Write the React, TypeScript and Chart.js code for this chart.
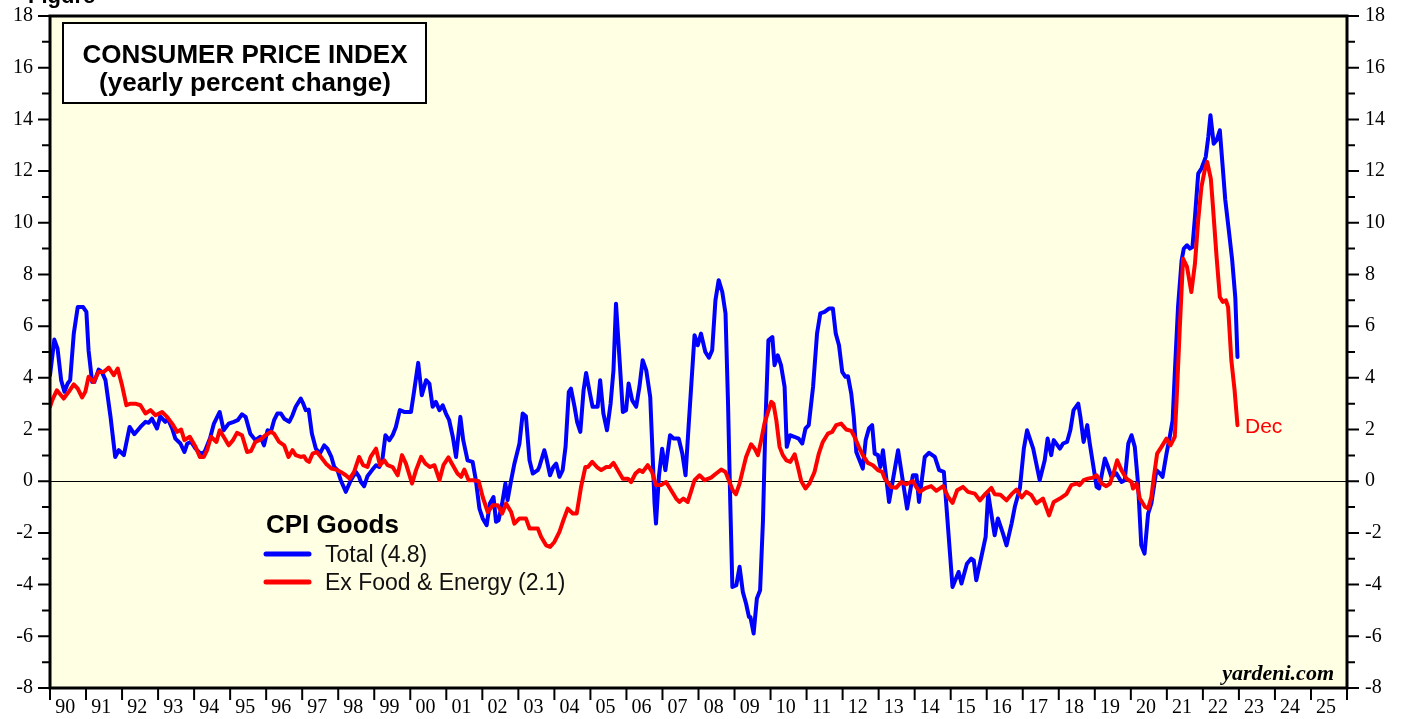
import React, { useEffect, useRef } from "react";
import { Chart, registerables } from "chart.js";

Chart.register(...registerables);

// ---- Data ----
const totalDates = [
  1990.0, 1990.12, 1990.21, 1990.31, 1990.4, 1990.49, 1990.56, 1990.66, 1990.77, 1990.92,
  1991.01, 1991.07, 1991.17, 1991.23, 1991.35, 1991.44, 1991.54, 1991.68, 1991.81, 1991.91,
  1992.05, 1992.21, 1992.34, 1992.51, 1992.65, 1992.74, 1992.83, 1992.97, 1993.06, 1993.2,
  1993.27, 1993.39, 1993.48, 1993.62, 1993.73, 1993.81, 1993.92, 1994.04, 1994.18, 1994.29,
  1994.44, 1994.55, 1994.71, 1994.82, 1994.96, 1995.1, 1995.21, 1995.33, 1995.43, 1995.56,
  1995.7, 1995.84, 1995.94, 1996.04, 1996.13, 1996.22, 1996.31, 1996.41, 1996.5, 1996.64,
  1996.73, 1996.82, 1996.96, 1997.03, 1997.1, 1997.18, 1997.27, 1997.38, 1997.49, 1997.61,
  1997.7, 1997.81, 1997.89, 1997.98, 1998.07, 1998.21, 1998.35, 1998.49, 1998.58, 1998.63,
  1998.72, 1998.81, 1998.94, 1999.05, 1999.14, 1999.23, 1999.31, 1999.42, 1999.51, 1999.6,
  1999.71, 1999.83, 2000.02, 2000.11, 2000.22, 2000.32, 2000.44, 2000.53, 2000.62, 2000.71,
  2000.81, 2000.9, 2000.99, 2001.08, 2001.18, 2001.27, 2001.39, 2001.47, 2001.59, 2001.73,
  2001.82, 2001.92, 2002.01, 2002.12, 2002.21, 2002.31, 2002.38, 2002.45, 2002.55, 2002.64,
  2002.7, 2002.8, 2002.89, 2003.03, 2003.12, 2003.21, 2003.31, 2003.4, 2003.54, 2003.58,
  2003.72, 2003.77, 2003.88, 2003.97, 2004.05, 2004.14, 2004.23, 2004.31, 2004.4, 2004.46,
  2004.56, 2004.63, 2004.72, 2004.81, 2004.88, 2004.97, 2005.06, 2005.2, 2005.27, 2005.36,
  2005.46, 2005.56, 2005.64, 2005.71, 2005.81, 2005.9, 2005.99, 2006.06, 2006.16, 2006.27,
  2006.36, 2006.45, 2006.55, 2006.66, 2006.71, 2006.78, 2006.82, 2006.9, 2006.99, 2007.08,
  2007.21, 2007.31, 2007.45, 2007.55, 2007.64, 2007.73, 2007.89, 2007.98, 2008.07, 2008.19,
  2008.29, 2008.38, 2008.47, 2008.56, 2008.66, 2008.75, 2008.82, 2008.88, 2008.94, 2009.05,
  2009.14, 2009.23, 2009.32, 2009.4, 2009.44, 2009.53, 2009.62, 2009.71, 2009.79, 2009.86,
  2009.94, 2010.05, 2010.11, 2010.2, 2010.29, 2010.39, 2010.45, 2010.54, 2010.66, 2010.78,
  2010.88, 2010.97, 2011.06, 2011.18, 2011.29, 2011.38, 2011.5, 2011.62, 2011.73, 2011.81,
  2011.9, 2011.99, 2012.08, 2012.15, 2012.24, 2012.31, 2012.38, 2012.47, 2012.56, 2012.64,
  2012.73, 2012.82, 2012.89, 2012.98, 2013.05, 2013.12, 2013.29, 2013.54, 2013.79, 2013.95,
  2014.05, 2014.12, 2014.28, 2014.4, 2014.56, 2014.68, 2014.81, 2015.05, 2015.22, 2015.3,
  2015.45, 2015.57, 2015.64, 2015.71, 2015.85, 2015.97, 2016.04, 2016.22, 2016.31, 2016.45,
  2016.55, 2016.69, 2016.78, 2016.92, 2017.03, 2017.12, 2017.29, 2017.47, 2017.61, 2017.69,
  2017.79, 2017.86, 2018.03, 2018.12, 2018.23, 2018.32, 2018.41, 2018.54, 2018.6, 2018.69,
  2018.79, 2018.86, 2019.05, 2019.12, 2019.28, 2019.37, 2019.46, 2019.6, 2019.74, 2019.83,
  2019.93, 2020.02, 2020.11, 2020.2, 2020.29, 2020.38, 2020.48, 2020.57, 2020.71, 2020.81,
  2020.88, 2020.99, 2021.08, 2021.16, 2021.22, 2021.31, 2021.41, 2021.47, 2021.56, 2021.64,
  2021.71, 2021.78, 2021.87, 2021.96, 2022.08, 2022.15, 2022.21, 2022.3, 2022.38, 2022.47,
  2022.55, 2022.62, 2022.72, 2022.81, 2022.9, 2022.96,
];
const totalValues = [
  4.1, 5.48, 5.13, 3.91, 3.46, 3.78, 3.91, 5.71, 6.74, 6.74,
  6.55, 5.07, 3.84, 3.84, 4.32, 4.23, 3.91, 2.49, 0.94, 1.2,
  1.01, 2.1, 1.82, 2.1, 2.3, 2.26, 2.42, 2.04, 2.51, 2.3,
  2.42, 2.04, 1.65, 1.46, 1.13, 1.46, 1.52, 1.26, 1.07, 1.13,
  1.65, 2.23, 2.68, 1.97, 2.23, 2.3, 2.36, 2.59, 2.49, 1.84,
  1.59, 1.72, 1.39, 1.97, 1.91, 2.36, 2.62, 2.62, 2.42, 2.3,
  2.55, 2.88, 3.2, 3.0, 2.75, 2.77, 1.84, 1.26, 1.07, 1.39,
  1.26, 0.94, 0.55, 0.43, 0.04, -0.41, 0.04, 0.36, 0.17, -0.03,
  -0.19, 0.19, 0.43, 0.62, 0.55, 0.88, 1.78, 1.59, 1.78, 2.1,
  2.75, 2.68, 2.68, 3.52, 4.58, 3.33, 3.91, 3.78, 2.88, 3.07,
  2.75, 2.94, 2.62, 2.36, 1.72, 0.94, 2.49, 1.59, 0.81, 0.75,
  0.04, -1.06, -1.44, -1.7, -0.86, -0.61, -1.57, -1.51, -0.86, -0.09,
  -0.73, 0.04, 0.68, 1.46, 2.62, 2.51, 0.81, 0.3, 0.43, 0.55,
  1.2, 0.94, 0.23, 0.55, 0.68, 0.17, 0.43, 1.33, 3.46, 3.58,
  2.88, 2.3, 1.91, 3.52, 4.19, 3.52, 2.88, 2.88, 3.91, 2.62,
  1.97, 3.0, 4.29, 6.87, 4.68, 2.68, 2.75, 3.78, 3.13, 2.88,
  3.65, 4.68, 4.29, 3.26, 1.59, -0.86, -1.64, 0.17, 1.26, 0.43,
  1.78, 1.65, 1.65, 1.07, 0.23, 2.23, 5.65, 5.26, 5.71, 5.0,
  4.78, 5.07, 7.0, 7.78, 7.32, 6.49, 3.0, -0.74, -4.09, -4.02,
  -3.31, -4.28, -4.73, -5.25, -5.25, -5.89, -4.54, -4.22, -1.51, 2.36,
  5.45, 5.58, 4.49, 4.87, 4.49, 3.65, 1.33, 1.78, 1.72, 1.65,
  1.46, 2.04, 2.17, 3.65, 5.71, 6.49, 6.55, 6.68, 6.68, 5.71,
  5.26, 4.23, 4.04, 4.06, 3.39, 2.49, 1.13, 0.81, 0.49, 1.59,
  2.04, 2.17, 1.07, 1.01, 0.55, 1.2, -0.8, 1.2, -1.06, 0.23,
  0.23, -0.8, 0.94, 1.1, 0.94, 0.43, 0.36, -4.09, -3.51, -3.96,
  -3.19, -2.99, -3.06, -3.83, -2.93, -2.15, -0.48, -2.09, -1.44, -2.02,
  -2.48, -1.64, -0.99, -0.28, 1.26, 1.97, 1.26, 0.04, 0.81, 1.65,
  1.01, 1.59, 1.26, 1.46, 1.52, 1.97, 2.75, 3.0, 2.49, 1.52,
  2.17, 1.46, -0.22, -0.28, 0.88, 0.55, 0.17, 0.3, -0.03, 0.04,
  1.46, 1.78, 1.33, -0.09, -2.48, -2.8, -1.25, -0.86, 0.43, 0.3,
  0.17, 1.07, 1.72, 2.36, 4.17, 6.74, 8.55, 9.0, 9.13, 9.0,
  9.06, 10.23, 11.9, 12.1, 12.55, 13.32, 14.16, 13.06, 13.19, 13.58,
  12.16, 10.9, 9.7, 8.6, 7.1, 4.81,
];

const coreDates = [
  1990.0, 1990.06, 1990.19, 1990.38, 1990.52, 1990.66, 1990.77, 1990.89, 1990.98, 1991.07,
  1991.21, 1991.35, 1991.49, 1991.63, 1991.77, 1991.88, 1992.0, 1992.12, 1992.23, 1992.37,
  1992.51, 1992.65, 1992.79, 1992.93, 1993.11, 1993.25, 1993.39, 1993.53, 1993.64, 1993.73,
  1993.88, 1994.04, 1994.16, 1994.27, 1994.36, 1994.47, 1994.62, 1994.71, 1994.82, 1994.96,
  1995.08, 1995.19, 1995.33, 1995.47, 1995.58, 1995.7, 1995.84, 1995.98, 1996.13, 1996.22,
  1996.36, 1996.5, 1996.62, 1996.73, 1996.82, 1996.96, 1997.05, 1997.12, 1997.19, 1997.29,
  1997.4, 1997.52, 1997.66, 1997.81, 1997.94, 1998.07, 1998.21, 1998.32, 1998.44, 1998.58,
  1998.69, 1998.81, 1998.9, 1999.05, 1999.16, 1999.28, 1999.37, 1999.51, 1999.65, 1999.77,
  1999.88, 2000.05, 2000.16, 2000.3, 2000.42, 2000.55, 2000.67, 2000.81, 2000.92, 2001.06,
  2001.18, 2001.31, 2001.41, 2001.5, 2001.62, 2001.75, 2001.9, 2002.01, 2002.15, 2002.29,
  2002.43, 2002.55, 2002.66, 2002.8, 2002.89, 2003.03, 2003.21, 2003.31, 2003.54, 2003.63,
  2003.77, 2003.88, 2004.0, 2004.14, 2004.25, 2004.37, 2004.51, 2004.62, 2004.74, 2004.86,
  2004.93, 2005.05, 2005.18, 2005.3, 2005.44, 2005.53, 2005.64, 2005.79, 2005.9, 2006.04,
  2006.13, 2006.25, 2006.36, 2006.45, 2006.59, 2006.71, 2006.82, 2006.96, 2007.1, 2007.24,
  2007.38, 2007.47, 2007.58, 2007.7, 2007.79, 2007.89, 2008.03, 2008.17, 2008.35, 2008.49,
  2008.63, 2008.75, 2008.86, 2008.95, 2009.04, 2009.14, 2009.23, 2009.32, 2009.46, 2009.56,
  2009.65, 2009.74, 2009.83, 2009.93, 2010.02, 2010.08, 2010.16, 2010.25, 2010.34, 2010.44,
  2010.55, 2010.67, 2010.76, 2010.85, 2010.97, 2011.08, 2011.22, 2011.34, 2011.45, 2011.59,
  2011.71, 2011.82, 2011.96, 2012.1, 2012.24, 2012.33, 2012.45, 2012.56, 2012.7, 2012.84,
  2012.98, 2013.1, 2013.17, 2013.35, 2013.49, 2013.63, 2013.77, 2013.95, 2014.04, 2014.14,
  2014.28, 2014.46, 2014.6, 2014.79, 2014.93, 2015.05, 2015.18, 2015.34, 2015.48, 2015.67,
  2015.81, 2015.97, 2016.13, 2016.22, 2016.38, 2016.55, 2016.69, 2016.83, 2016.97, 2017.1,
  2017.24, 2017.38, 2017.56, 2017.73, 2017.86, 2018.03, 2018.21, 2018.35, 2018.49, 2018.58,
  2018.69, 2018.81, 2018.95, 2019.05, 2019.19, 2019.32, 2019.42, 2019.53, 2019.62, 2019.74,
  2019.88, 2020.02, 2020.06, 2020.16, 2020.25, 2020.39, 2020.48, 2020.57, 2020.64, 2020.73,
  2020.85, 2020.99, 2021.1, 2021.22, 2021.27, 2021.36, 2021.45, 2021.56, 2021.68, 2021.78,
  2021.87, 2021.96, 2022.05, 2022.12, 2022.22, 2022.28, 2022.38, 2022.47, 2022.55, 2022.64,
  2022.7, 2022.79, 2022.88, 2022.96,
];
const coreValues = [
  2.88, 3.13, 3.52, 3.2, 3.46, 3.75, 3.58, 3.24, 3.46, 4.04,
  3.84, 4.23, 4.23, 4.4, 4.1, 4.36, 3.71, 2.94, 3.0, 3.0,
  2.94, 2.62, 2.75, 2.55, 2.68, 2.49, 2.23, 1.91, 2.0, 1.59,
  1.72, 1.33, 0.94, 0.94, 1.2, 1.72, 1.52, 1.97, 1.72, 1.39,
  1.59, 1.87, 1.78, 1.13, 1.17, 1.52, 1.61, 1.78, 1.91, 1.84,
  1.52, 1.39, 0.94, 1.2, 1.01, 0.94, 0.97, 0.81, 0.75, 1.07,
  1.13, 0.94, 0.68, 0.49, 0.45, 0.36, 0.23, 0.1, 0.36, 0.94,
  0.62, 0.55, 0.94, 1.26, 0.62, 0.81, 0.62, 0.55, 0.23, 1.01,
  0.68, -0.09, 0.43, 0.94, 0.68, 0.55, 0.62, 0.04, 0.62, 0.92,
  0.62, 0.3, 0.17, 0.45, 0.04, 0.04, 0.0, -0.61, -1.19, -0.93,
  -0.93, -1.25, -0.86, -1.19, -1.64, -1.44, -1.44, -1.83, -1.83, -2.15,
  -2.48, -2.54, -2.35, -1.96, -1.51, -1.06, -1.25, -1.25, -0.22, 0.55,
  0.55, 0.75, 0.55, 0.43, 0.55, 0.55, 0.71, 0.36, 0.1, 0.1,
  -0.03, 0.3, 0.43, 0.36, 0.62, 0.36, -0.15, -0.15, -0.03, -0.35,
  -0.67, -0.8, -0.67, -0.8, -0.41, 0.04, 0.23, 0.04, 0.14, 0.3,
  0.45, 0.36, -0.03, -0.35, -0.5, -0.09, 0.43, 0.94, 1.43, 1.26,
  1.01, 1.59, 2.23, 2.68, 3.07, 3.0, 2.36, 1.33, 1.01, 0.81,
  0.75, 1.04, 0.55, 0.01, -0.28, -0.09, 0.36, 1.07, 1.52, 1.84,
  1.91, 2.17, 2.23, 2.0, 1.95, 1.72, 1.33, 1.01, 0.71, 0.62,
  0.43, 0.36, 0.1, -0.22, -0.25, -0.03, -0.12, 0.01, -0.22, -0.41,
  -0.28, -0.19, -0.37, -0.19, -0.61, -0.84, -0.35, -0.22, -0.41, -0.48,
  -0.74, -0.48, -0.26, -0.5, -0.52, -0.74, -0.5, -0.32, -0.63, -0.41,
  -0.54, -0.86, -0.67, -1.32, -0.8, -0.67, -0.5, -0.15, -0.09, -0.15,
  0.04, 0.1, 0.14, 0.23, -0.09, -0.19, -0.09, 0.36, 0.81, 0.43,
  0.1, -0.03, -0.28, -0.09, -0.67, -0.99, -1.06, -0.61, 0.17, 1.07,
  1.33, 1.65, 1.39, 1.72, 3.13, 5.97, 8.61, 8.29, 7.32, 8.42,
  10.1, 11.39, 12.03, 12.35, 11.71, 10.61, 8.68, 7.13, 6.94, 7.0,
  6.74, 4.68, 3.52, 2.17,
];

const xTickLabels = [
  "90", "91", "92", "93", "94", "95", "96", "97", "98", "99", "00", "01",
  "02", "03", "04", "05", "06", "07", "08", "09", "10", "11", "12", "13",
  "14", "15", "16", "17", "18", "19", "20", "21", "22", "23", "24", "25",
];
const firstYear = 1990;
const lastYear = 2026;
const yMin = -8;
const yMax = 18;

const titleLines = ["CONSUMER PRICE INDEX", "(yearly percent change)"];
const legendTitle = "CPI Goods";
const seriesLabels = ["Total (4.8)", "Ex Food & Energy (2.1)"];

const BLUE = "#0000FF";
const RED = "#FF0000";
const BG = "#FFFFE3";
const SERIF = "'Liberation Serif', 'Times New Roman', serif";
const SANS = "'Liberation Sans', Arial, sans-serif";

const decoPlugin = {
  id: "deco",
  beforeDraw(chart: any) {
    const { ctx, chartArea: a } = chart;
    ctx.save();
    ctx.fillStyle = "#FFFFFF";
    ctx.fillRect(0, 0, chart.width, chart.height);
    ctx.fillStyle = BG;
    ctx.fillRect(a.left, a.top, a.right - a.left, a.bottom - a.top);
    ctx.restore();
  },
  beforeDatasetsDraw(chart: any) {
    const { ctx, chartArea: a, scales } = chart;
    const y0 = Math.round(scales.y.getPixelForValue(0)) + 0.5;
    ctx.save();
    ctx.strokeStyle = "#000";
    ctx.lineWidth = 1;
    ctx.beginPath();
    ctx.moveTo(a.left, y0);
    ctx.lineTo(a.right, y0);
    ctx.stroke();
    ctx.restore();
  },
  afterDraw(chart: any) {
    const { ctx, chartArea: a, scales } = chart;
    ctx.save();
    // ticks
    ctx.strokeStyle = "#000";
    ctx.lineWidth = 2;
    for (let v = yMin; v <= yMax; v++) {
      const py = scales.y.getPixelForValue(v);
      const len = v % 2 === 0 ? 12 : 8;
      ctx.beginPath();
      ctx.moveTo(a.left - len, py);
      ctx.lineTo(a.left, py);
      ctx.moveTo(a.right, py);
      ctx.lineTo(a.right + len, py);
      ctx.stroke();
    }
    for (let yr = firstYear; yr <= lastYear; yr++) {
      const px = scales.x.getPixelForValue(yr);
      ctx.beginPath();
      ctx.moveTo(px, a.bottom);
      ctx.lineTo(px, a.bottom + 12);
      ctx.stroke();
    }
    // frame
    ctx.lineWidth = 3;
    ctx.strokeRect(a.left, a.top, a.right - a.left, a.bottom - a.top);

    // partial figure caption at the very top
    ctx.fillStyle = "#000";
    ctx.font = `bold 22px ${SANS}`;
    ctx.textAlign = "left";
    ctx.textBaseline = "alphabetic";
    ctx.fillText("Figure", 28, 3);

    // title box
    ctx.fillStyle = "#FFFFFF";
    ctx.fillRect(63, 23, 363, 80);
    ctx.lineWidth = 2;
    ctx.strokeRect(63, 23, 363, 80);
    ctx.fillStyle = "#000";
    ctx.font = `bold 26px ${SANS}`;
    ctx.textAlign = "center";
    ctx.fillText(titleLines[0], 245, 63);
    ctx.fillText(titleLines[1], 245, 91);

    // legend
    ctx.textAlign = "left";
    ctx.font = `bold 26px ${SANS}`;
    ctx.fillText(legendTitle, 266, 533);
    ctx.lineWidth = 5;
    ctx.lineCap = "round";
    ctx.strokeStyle = BLUE;
    ctx.beginPath();
    ctx.moveTo(266, 554);
    ctx.lineTo(309, 554);
    ctx.stroke();
    ctx.strokeStyle = RED;
    ctx.beginPath();
    ctx.moveTo(266, 582);
    ctx.lineTo(309, 582);
    ctx.stroke();
    ctx.font = `23px ${SANS}`;
    ctx.fillStyle = "#111";
    ctx.fillText(seriesLabels[0], 325, 562);
    ctx.fillText(seriesLabels[1], 325, 590);

    // end label
    ctx.fillStyle = RED;
    ctx.font = `21px ${SANS}`;
    ctx.fillText("Dec", 1245, 433);

    // source
    ctx.fillStyle = "#000";
    ctx.font = `italic bold 22px ${SERIF}`;
    ctx.textAlign = "right";
    ctx.fillText("yardeni.com", 1334, 680);
    ctx.restore();
  },
};

export default function App() {
  const ref = useRef<HTMLCanvasElement | null>(null);

  useEffect(() => {
    document.body.style.margin = "0";
    const canvas = ref.current;
    if (!canvas) return;
    const totalPts = totalDates.map((d, i) => ({ x: d, y: totalValues[i] }));
    const corePts = coreDates.map((d, i) => ({ x: d, y: coreValues[i] }));

    const yAxis = (position: string, pad: number, w: number) => ({
      type: "linear",
      position,
      min: yMin,
      max: yMax,
      ticks: {
        stepSize: 2,
        color: "#000",
        padding: pad,
        font: { family: SERIF, size: 20 },
      },
      grid: { display: false, drawTicks: false },
      border: { display: false },
      afterFit(s: any) {
        s.width = w;
        s.paddingTop = 0;
        s.paddingBottom = 0;
      },
    });

    const chart = new Chart(canvas, {
      type: "line",
      data: {
        datasets: [
          {
            label: seriesLabels[1],
            data: corePts,
            borderColor: RED,
            borderWidth: 4,
            pointRadius: 0,
            tension: 0,
            fill: false,
            borderJoinStyle: "round",
            borderCapStyle: "round",
            xAxisID: "x",
            yAxisID: "y",
          },
          {
            label: seriesLabels[0],
            data: totalPts,
            borderColor: BLUE,
            borderWidth: 4,
            pointRadius: 0,
            tension: 0,
            fill: false,
            borderJoinStyle: "round",
            borderCapStyle: "round",
            xAxisID: "x",
            yAxisID: "y",
          },
        ],
      },
      options: {
        responsive: false,
        animation: false,
        devicePixelRatio: 1,
        layout: { padding: { top: 16, left: 0, right: 0, bottom: 0 } },
        plugins: {
          legend: { display: false },
          tooltip: { enabled: false },
          title: { display: false },
        },
        scales: {
          x: {
            type: "linear",
            position: "bottom",
            min: firstYear,
            max: lastYear,
            afterBuildTicks(s: any) {
              s.ticks = xTickLabels.map((_, i) => ({ value: firstYear + i + 0.42 }));
            },
            ticks: {
              autoSkip: false,
              maxRotation: 0,
              minRotation: 0,
              padding: 8,
              color: "#000",
              font: { family: SERIF, size: 20 },
              callback: (_v: any, i: number) => xTickLabels[i],
            },
            grid: { display: false, drawTicks: false },
            border: { display: false },
            afterFit(s: any) {
              s.height = 31;
              s.paddingLeft = 0;
              s.paddingRight = 0;
            },
          },
          y: yAxis("left", 17, 50),
          y2: yAxis("right", 18, 59),
        },
      } as any,
      plugins: [decoPlugin],
    } as any);
    return () => chart.destroy();
  }, []);

  return (
    <div style={{ position: "absolute", left: 0, top: 0, width: 1406, height: 719 }}>
      <canvas ref={ref} width={1406} height={719} style={{ display: "block" }} />
    </div>
  );
}
